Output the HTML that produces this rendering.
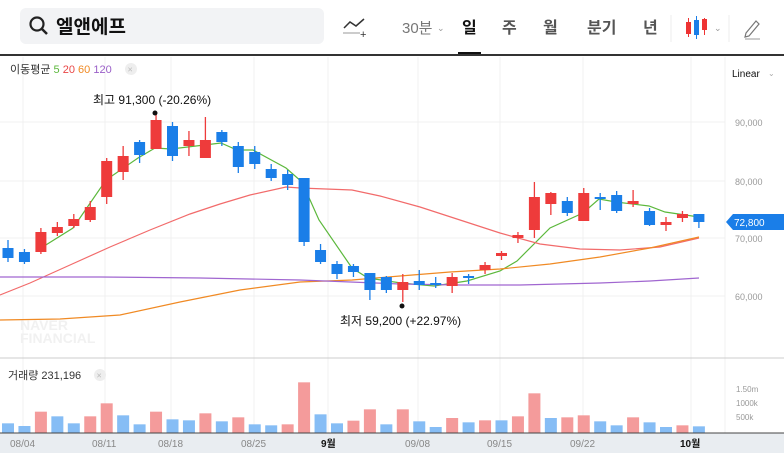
<!DOCTYPE html>
<html><head><meta charset="utf-8">
<style>
body{margin:0;width:784px;height:453px;overflow:hidden;background:#fff;font-family:"Liberation Sans","Noto Sans CJK KR",sans-serif;}
svg text{font-family:"Liberation Sans","Noto Sans CJK KR",sans-serif;}
</style></head><body>
<svg id="s" width="784" height="453" xmlns="http://www.w3.org/2000/svg">
<rect x="20" y="8" width="304" height="36" rx="6" fill="#f2f3f5"/>
<circle cx="37" cy="24" r="6.5" fill="none" stroke="#222" stroke-width="2.2"/>
<line x1="42" y1="29" x2="47" y2="34" stroke="#222" stroke-width="2.5"/>
<text x="56" y="33" font-size="19" font-weight="bold" fill="#111">엘앤에프</text>
<polyline points="344,28 350,22 356,26 364,19" fill="none" stroke="#333" stroke-width="1.5"/>
<line x1="343" y1="33" x2="360" y2="33" stroke="#bbb" stroke-width="1.5"/>
<text x="360" y="38" font-size="11" fill="#333">+</text>
<text x="402" y="33" font-size="15" fill="#777">30분</text>
<text x="437" y="31" font-size="9" fill="#999">⌄</text>
<text x="462" y="33" font-size="16" font-weight="bold" fill="#111">일</text>
<rect x="458" y="52" width="23" height="3" fill="#111"/>
<text x="502" y="33" font-size="16" font-weight="bold" fill="#555">주</text>
<text x="543" y="33" font-size="16" font-weight="bold" fill="#555">월</text>
<text x="587" y="33" font-size="16" font-weight="bold" fill="#555">분기</text>
<text x="643" y="33" font-size="16" font-weight="bold" fill="#555">년</text>
<line x1="671" y1="15" x2="671" y2="42" stroke="#eee"/>
<rect x="686" y="22" width="5" height="12" fill="#e33"/><line x1="688.5" y1="18" x2="688.5" y2="37" stroke="#e33"/>
<rect x="694" y="20" width="5" height="15" fill="#1a7ee8"/><line x1="696.5" y1="16" x2="696.5" y2="39" stroke="#1a7ee8"/>
<rect x="702" y="19" width="5" height="11" fill="#e33"/><line x1="704.5" y1="18" x2="704.5" y2="35" stroke="#e33"/>
<text x="714" y="31" font-size="9" fill="#999">⌄</text>
<line x1="729" y1="15" x2="729" y2="42" stroke="#eee"/>
<path d="M746 33 L756 21 L759 24 L749 36 L745 37 Z" fill="none" stroke="#777" stroke-width="1.2"/>
<line x1="745" y1="39" x2="760" y2="39" stroke="#999"/>
<rect x="0" y="54" width="784" height="2" fill="#333"/>
<g id="grid" stroke="#f0f0f0"></g>
<text x="10" y="73" font-size="11" fill="#333">이동평균 <tspan fill="#5cb83c">5</tspan> <tspan fill="#e94646">20</tspan> <tspan fill="#f08a24">60</tspan> <tspan fill="#9a5fc8">120</tspan></text>
<circle cx="131" cy="69" r="6" fill="#eee"/><text x="127.5" y="72.5" font-size="9" fill="#bbb">×</text>
<text x="732" y="77" font-size="10" fill="#111">Linear</text><text x="768" y="76" font-size="8" fill="#aaa">⌄</text>
<g font-size="9" fill="#999"><text x="735" y="126">90,000</text><text x="735" y="185">80,000</text><text x="735" y="242">70,000</text><text x="735" y="300">60,000</text></g>
<text x="20" y="330" font-size="14" font-weight="bold" fill="#f1f1f1">NAVER</text>
<text x="20" y="343" font-size="14" font-weight="bold" fill="#f1f1f1">FINANCIAL</text>
<g id="ma"></g>
<g id="cd"></g>
<path d="M726 222 L733 214 L784 214 L784 230 L733 230 Z" fill="#1a7ee8"/>
<text x="734" y="226" font-size="10" fill="#fff">72,800</text>
<circle cx="155" cy="113" r="2.5" fill="#111"/>
<text x="93" y="104" font-size="12" fill="#111">최고 91,300 (-20.26%)</text>
<circle cx="402" cy="306" r="2.5" fill="#111"/>
<text x="340" y="325" font-size="12" fill="#111">최저 59,200 (+22.97%)</text>
<line x1="0" y1="358" x2="784" y2="358" stroke="#ccc"/>
<text x="8" y="379" font-size="11" fill="#333">거래량 231,196</text>
<circle cx="100" cy="375" r="6" fill="#eee"/><text x="96.5" y="378.5" font-size="9" fill="#bbb">×</text>
<g font-size="8" fill="#999"><text x="736" y="392">1.50m</text><text x="736" y="406">1000k</text><text x="736" y="420">500k</text></g>
<g id="vol"></g>
<rect x="0" y="433" width="784" height="20" fill="#e9edf1"/>
<line x1="0" y1="433" x2="784" y2="433" stroke="#444"/>
<g font-size="10" fill="#888"><text x="10" y="447">08/04</text><text x="92" y="447">08/11</text><text x="158" y="447">08/18</text><text x="241" y="447">08/25</text>
<text x="321" y="447" fill="#111" font-weight="bold">9월</text><text x="405" y="447">09/08</text><text x="487" y="447">09/15</text><text x="570" y="447">09/22</text><text x="680" y="447" fill="#111" font-weight="bold">10월</text></g>
</svg>
<script>
const NS="http://www.w3.org/2000/svg";
function el(p,t,a){const e=document.createElementNS(NS,t);for(const k in a)e.setAttribute(k,a[k]);document.getElementById(p).appendChild(e);return e;}
[23,105,171,254,328,418,500,583,691].forEach(x=>el("grid","line",{x1:x,y1:57,x2:x,y2:433}));
[122,181,238,296].forEach(y=>el("grid","line",{x1:0,y1:y,x2:725,y2:y}));
el("grid","line",{x1:725,y1:57,x2:725,y2:433});
const R="#ee3b3b",B="#1a7ee8";
const c=[[0,248,258,240,262],[0,252,262,249,264],[1,232,252,228,254],[1,227,233,222,236],[1,219,226,214,228],[1,207,220,201,222],[1,161,197,158,204],[1,156,172,146,180],[0,142,155,140,163],[1,120,149,113,149],[0,126,156,122,161],[1,140,146,131,156],[1,140,158,117,158],[0,132,142,130,146],[0,146,167,142,173],[0,152,164,146,169],[0,169,178,164,181],[0,174,185,170,190],[0,178,242,178,246],[0,250,262,244,264],[0,264,274,261,279],[0,266,272,264,277],[0,273,290,273,300],[0,277,290,276,293],[1,282,290,274,302],[0,281,285,270,290],[0,283,285,277,288],[1,277,286,273,293],[0,276,278,274,284],[1,265,270,262,274],[1,253,256,251,260],[1,235,238,232,243],[1,197,230,182,238],[1,193,204,192,215],[0,201,213,197,216],[1,193,221,188,221],[0,197,198,193,210],[0,195,211,191,213],[1,201,204,190,207],[0,211,225,208,226],[1,222,225,217,231],[1,214,218,211,222],[0,214,222,214,228]];
c.forEach((d,i)=>{const x=8+i*16.45,col=d[0]?R:B;
el("cd","line",{x1:x,y1:d[3],x2:x,y2:d[4],stroke:col,"stroke-width":1.3});
el("cd","rect",{x:x-5.5,y:d[1],width:11,height:Math.max(2,d[2]-d[1]),fill:col});});
const ma=[["#5cb83c","41,248 73,228 106,180 138,158 155,148 171,149 221,143 237,150 253,150 286,168 302,182 319,220 352,268 368,278 401,283 434,286 467,281 500,271 517,261 550,228 583,213 599,199 616,202 649,206 665,212 699,217"],
["#f26b6b","0,295 30,283 70,265 110,247 150,230 190,214 220,204 250,195 286,187 300,188 352,190 380,196 420,207 460,220 500,233 540,244 580,249 620,250 660,247 699,238"],
["#f08a24","0,320 60,319 120,315 180,302 240,290 300,282 352,280 400,276 450,272 500,269 550,264 600,257 650,248 699,237"],
["#a066d0","0,277 100,277 200,278 300,280 400,284 460,285 520,285 600,283 650,281 699,278"]];
ma.forEach(m=>el("ma","polyline",{points:m[1],fill:"none",stroke:m[0],"stroke-width":1.2}));
const vt=[205,213,170,184,205,184,145,181,208,170,193,196,175,199,187,208,211,208,82,178,205,197,163,208,163,199,216,189,202,196,196,184,115,189,187,181,199,211,187,202,216,211,214];
const vc="bbrbbrrbbrbbrbrbbrrbbrrbrbbrbrbrrbrrbbrbbrb";
vt.forEach((z,i)=>{const x=8+i*16.45,y=355+z/3;
el("vol","rect",{x:x-6,y:y,width:12,height:433-y,fill:vc[i]=="r"?"#f49b9b":"#86bdf5"});});
</script>
</body></html>
